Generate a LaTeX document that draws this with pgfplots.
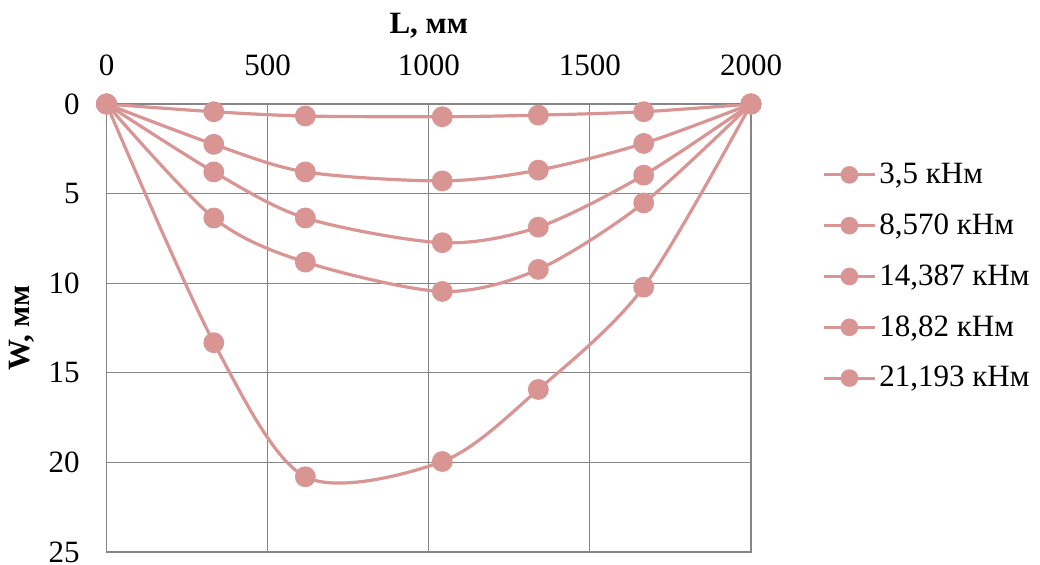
\documentclass[border=0pt]{standalone}
\usepackage{fontspec}
\setmainfont{Liberation Serif}
\usepackage{pgfplots}
\pgfplotsset{compat=1.18}
\definecolor{pinkline}{RGB}{217,149,148}
\definecolor{gridgray}{RGB}{134,134,134}
\begin{document}
\begin{tikzpicture}
\begin{axis}[
  scale only axis,
  width=322.25pt, height=224pt,
  xmin=0, xmax=2000, ymin=0, ymax=25,
  y dir=reverse,
  xtick={0,500,1000,1500,2000},
  ytick={0,5,10,15,20,25},
  xticklabel pos=upper,
  grid=major,
  major grid style={gridgray, line width=0.6pt},
  axis line style={gridgray, line width=0.6pt},
  major tick length=0pt,
  /pgf/number format/assume math mode=true,
  /pgf/number format/1000 sep={},
  tick label style={font=\fontsize{15.5}{18}\selectfont, inner sep=0pt},
  xticklabel style={anchor=base, yshift=14.5pt},
  yticklabel style={anchor=east, xshift=-13.25pt},
  xlabel={\textbf{L, мм}},
  ylabel={\textbf{W, мм}},
  xlabel style={at={(axis description cs:0.5,1)}, anchor=base, yshift=35.5pt, font=\fontsize{15.5}{18}\selectfont, inner sep=0pt},
  ylabel style={at={(axis description cs:0,0.5)}, anchor=center, rotate=0, yshift=42.25pt, font=\fontsize{15.5}{18}\selectfont, inner sep=0pt},
  legend style={at={(1,0.615)}, anchor=west, xshift=35.5pt, inner sep=0pt, draw=none, fill=none,
    row sep=9.6pt, font=\fontsize{15.5}{18}\selectfont, nodes={inner xsep=1.5pt}},
  legend cell align=left,
  legend image code/.code={
    \draw[line width=1.5pt] (0pt,0pt) -- (25.5pt,0pt);
    \fill (12.75pt,0pt) circle[radius=3.6pt];
  },
  every axis plot post/.append style={pinkline, line width=1.6pt, smooth, mark=*, mark size=4.4pt, mark options={solid, fill=pinkline, draw=pinkline}},
]
\addplot coordinates {(0,0) (333,0.43) (617,0.67) (1042,0.71) (1340,0.62) (1667,0.43) (2000,0)};
\addlegendentry{3,5 кНм}
\addplot coordinates {(0,0) (333,2.25) (617,3.79) (1042,4.29) (1340,3.69) (1667,2.2) (2000,0)};
\addlegendentry{8,570 кНм}
\addplot coordinates {(0,0) (333,3.79) (617,6.36) (1042,7.74) (1340,6.87) (1667,3.97) (2000,0)};
\addlegendentry{14,387 кНм}
\addplot coordinates {(0,0) (333,6.36) (617,8.82) (1042,10.46) (1340,9.23) (1667,5.52) (2000,0)};
\addlegendentry{18,82 кНм}
\addplot coordinates {(0,0) (333,13.32) (617,20.8) (1042,19.95) (1340,15.93) (1667,10.22) (2000,0)};
\addlegendentry{21,193 кНм}
\coordinate (tl) at (axis cs:0,0);
\coordinate (br) at (axis cs:2000,25);
\end{axis}
\pgfresetboundingbox
\path[use as bounding box] ([xshift=-53.25pt,yshift=52pt]tl) rectangle ([xshift=144.5pt,yshift=-6pt]br);
\end{tikzpicture}
\end{document}
